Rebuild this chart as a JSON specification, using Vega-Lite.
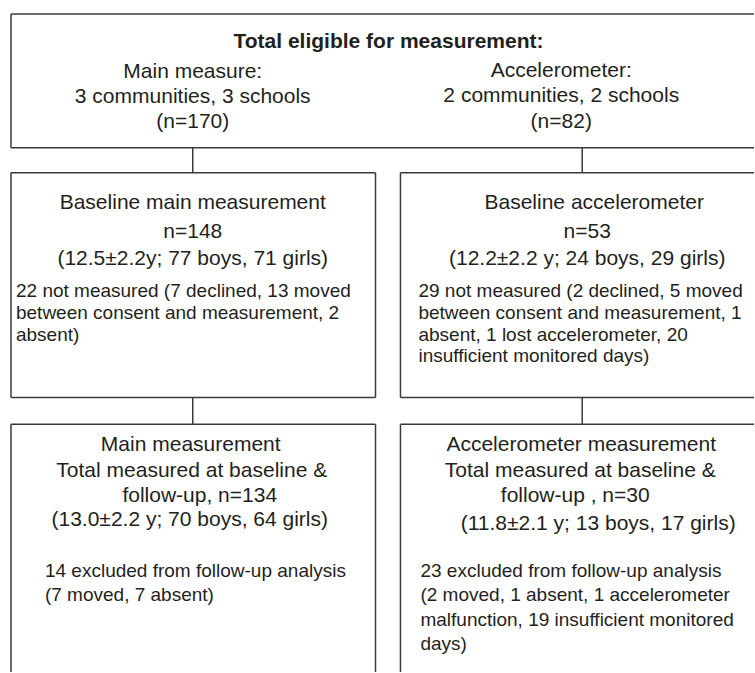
{
  "$schema": "https://vega.github.io/schema/vega-lite/v6.json",
  "width": 755,
  "height": 673,
  "autosize": {"type": "fit", "contains": "padding"},
  "padding": 0,
  "background": "white",
  "config": {"view": {"stroke": null}},
  "datasets": {
    "lines": [
      {"seg": "top-top", "x1": 11, "x2": 755, "y1": 14, "y2": 14},
      {"seg": "top-left", "x1": 11, "x2": 11, "y1": 14, "y2": 148},
      {"seg": "top-bottom", "x1": 11, "x2": 755, "y1": 148, "y2": 148},
      {"seg": "conn1L", "x1": 193, "x2": 193, "y1": 148, "y2": 173},
      {"seg": "conn1R", "x1": 583, "x2": 583, "y1": 148, "y2": 173},
      {"seg": "b2L-top", "x1": 11, "x2": 376, "y1": 173, "y2": 173},
      {"seg": "b2L-left", "x1": 11, "x2": 11, "y1": 173, "y2": 398},
      {"seg": "b2L-right", "x1": 376, "x2": 376, "y1": 173, "y2": 398},
      {"seg": "b2L-bottom", "x1": 11, "x2": 376, "y1": 398, "y2": 398},
      {"seg": "b2R-top", "x1": 401, "x2": 755, "y1": 173, "y2": 173},
      {"seg": "b2R-left", "x1": 401, "x2": 401, "y1": 173, "y2": 398},
      {"seg": "b2R-bottom", "x1": 401, "x2": 755, "y1": 398, "y2": 398},
      {"seg": "conn2L", "x1": 193, "x2": 193, "y1": 398, "y2": 425},
      {"seg": "conn2R", "x1": 583, "x2": 583, "y1": 398, "y2": 425},
      {"seg": "b3L-top", "x1": 11, "x2": 376, "y1": 425, "y2": 425},
      {"seg": "b3L-left", "x1": 11, "x2": 11, "y1": 425, "y2": 673},
      {"seg": "b3L-right", "x1": 376, "x2": 376, "y1": 425, "y2": 673},
      {"seg": "b3R-top", "x1": 401, "x2": 755, "y1": 425, "y2": 425},
      {"seg": "b3R-left", "x1": 401, "x2": 401, "y1": 425, "y2": 673}
    ],
    "texts": [
      {"role": "title", "label": "Total eligible for measurement:", "x": 389, "y": 42},
      {"role": "heading", "label": "Main measure:", "x": 193, "y": 72},
      {"role": "heading", "label": "3 communities, 3 schools", "x": 193, "y": 97},
      {"role": "heading", "label": "(n=170)", "x": 193, "y": 122},
      {"role": "heading", "label": "Accelerometer:", "x": 562, "y": 71},
      {"role": "heading", "label": "2 communities, 2 schools", "x": 562, "y": 96},
      {"role": "heading", "label": "(n=82)", "x": 562, "y": 122},
      {"role": "heading", "label": "Baseline main measurement", "x": 193, "y": 203},
      {"role": "heading", "label": "n=148", "x": 193, "y": 232},
      {"role": "heading", "label": "(12.5±2.2y; 77 boys, 71 girls)", "x": 193, "y": 259},
      {"role": "heading", "label": "Baseline accelerometer", "x": 595, "y": 203},
      {"role": "heading", "label": "n=53", "x": 588, "y": 232},
      {"role": "heading", "label": "(12.2±2.2 y; 24 boys, 29 girls)", "x": 588, "y": 259},
      {"role": "heading", "label": "Main measurement", "x": 191, "y": 446},
      {"role": "heading", "label": "Total measured at baseline &", "x": 192, "y": 472},
      {"role": "heading", "label": "follow-up, n=134", "x": 200, "y": 497},
      {"role": "heading", "label": "(13.0±2.2 y; 70 boys, 64 girls)", "x": 190, "y": 521},
      {"role": "heading", "label": "Accelerometer  measurement", "x": 582, "y": 446},
      {"role": "heading", "label": "Total measured at baseline &", "x": 581, "y": 472},
      {"role": "heading", "label": "follow-up , n=30", "x": 576, "y": 497},
      {"role": "heading", "label": "(11.8±2.1 y; 13 boys, 17 girls)", "x": 599, "y": 525},
      {"role": "note", "label": "22 not measured (7 declined, 13 moved", "x": 16, "y": 291},
      {"role": "note", "label": "between consent and measurement, 2", "x": 16, "y": 313},
      {"role": "note", "label": "absent)", "x": 16, "y": 335},
      {"role": "note", "label": "29 not measured (2 declined, 5 moved", "x": 419, "y": 291},
      {"role": "note", "label": "between consent and measurement, 1", "x": 419, "y": 313},
      {"role": "note", "label": "absent, 1 lost accelerometer, 20", "x": 419, "y": 335},
      {"role": "note", "label": "insufficient monitored days)", "x": 419, "y": 357},
      {"role": "note", "label": "14 excluded from follow-up analysis", "x": 45, "y": 572},
      {"role": "note", "label": "(7 moved, 7 absent)", "x": 45, "y": 596},
      {"role": "note", "label": "23 excluded from follow-up analysis", "x": 421, "y": 572},
      {"role": "note", "label": "(2 moved, 1 absent, 1 accelerometer", "x": 421, "y": 596},
      {"role": "note", "label": "malfunction, 19 insufficient monitored", "x": 421, "y": 621},
      {"role": "note", "label": "days)", "x": 421, "y": 645}
    ]
  },
  "layer": [
    {
      "data": {"name": "lines"},
      "mark": {"type": "rule", "stroke": "#3a3a3a", "strokeWidth": 1.5},
      "encoding": {
        "x": {"field": "x1", "type": "quantitative", "scale": {"domain": [0, 755]}, "axis": null},
        "x2": {"field": "x2"},
        "y": {"field": "y1", "type": "quantitative", "scale": {"domain": [0, 673], "reverse": true}, "axis": null},
        "y2": {"field": "y2"}
      }
    },
    {
      "data": {"name": "texts"},
      "transform": [{"filter": "datum.role === 'title'"}],
      "mark": {"type": "text", "font": "Liberation Sans", "fontSize": 21, "fontWeight": "bold", "align": "center", "baseline": "middle", "color": "#231f20"},
      "encoding": {
        "x": {"field": "x", "type": "quantitative", "scale": {"domain": [0, 755]}, "axis": null},
        "y": {"field": "y", "type": "quantitative", "scale": {"domain": [0, 673], "reverse": true}, "axis": null},
        "text": {"field": "label"}
      }
    },
    {
      "data": {"name": "texts"},
      "transform": [{"filter": "datum.role === 'heading'"}],
      "mark": {"type": "text", "font": "Liberation Sans", "fontSize": 21, "align": "center", "baseline": "middle", "color": "#231f20"},
      "encoding": {
        "x": {"field": "x", "type": "quantitative", "scale": {"domain": [0, 755]}, "axis": null},
        "y": {"field": "y", "type": "quantitative", "scale": {"domain": [0, 673], "reverse": true}, "axis": null},
        "text": {"field": "label"}
      }
    },
    {
      "data": {"name": "texts"},
      "transform": [{"filter": "datum.role === 'note'"}],
      "mark": {"type": "text", "font": "Liberation Sans", "fontSize": 19, "align": "left", "baseline": "middle", "color": "#231f20"},
      "encoding": {
        "x": {"field": "x", "type": "quantitative", "scale": {"domain": [0, 755]}, "axis": null},
        "y": {"field": "y", "type": "quantitative", "scale": {"domain": [0, 673], "reverse": true}, "axis": null},
        "text": {"field": "label"}
      }
    }
  ]
}
